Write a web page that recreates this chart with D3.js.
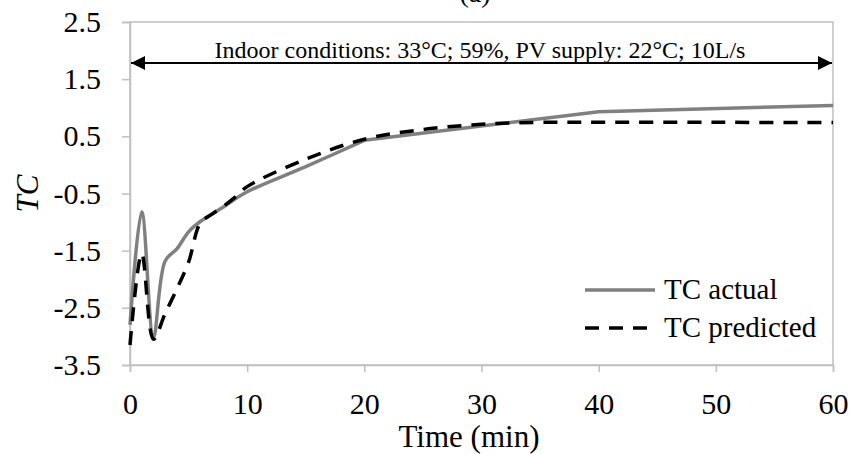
<!DOCTYPE html>
<html>
<head>
<meta charset="utf-8">
<script src="https://cdn.jsdelivr.net/npm/d3@7"></script>
<style>
  body { margin: 0; background: #fff; }
  svg, svg text { font-family: "Liberation Serif", "Times New Roman", "DejaVu Serif", serif; }
</style>
</head>
<body>
<div id="container"></div>
<script>
const width = 854;
const height = 454;
const margin = { top: 22, right: 21, bottom: 89, left: 130 };

// time (min) and TC values
const actualTime = [0, 1, 2, 3, 4, 5, 6, 8, 10, 15, 20, 40, 60];
const actualTC = [-2.8, -0.82, -3.02, -1.68, -1.47, -1.17, -0.99, -0.73, -0.47, -0.03, 0.43, 0.93, 1.04];
const predTime = [0, 1, 2, 3, 4, 5, 6, 7, 8, 9, 10, 15, 20, 25, 30, 35, 40, 50, 60];
const predTC = [-3.15, -1.55, -3.05, -2.6, -2.17, -1.7, -1.02, -0.86, -0.72, -0.56, -0.38, 0.1, 0.45, 0.62, 0.71, 0.745, 0.745, 0.745, 0.74];
const xTicks = [0, 10, 20, 30, 40, 50, 60];
const yTicks = [2.5, 1.5, 0.5, -0.5, -1.5, -2.5, -3.5];
const seriesNames = ["TC actual", "TC predicted"];
const note = "Indoor conditions: 33°C; 59%, PV supply: 22°C; 10L/s";

const serif = "Liberation Serif, Times New Roman, DejaVu Serif, serif";

const svg = d3.select("#container").append("svg")
  .attr("width", width)
  .attr("height", height)
  .attr("font-family", serif);

const x = d3.scaleLinear().domain([0, 60]).range([margin.left, width - margin.right]);
const y = d3.scaleLinear().domain([-3.5, 2.5]).range([height - margin.bottom, margin.top]);

const axisColor = "#bfbfbf";

// plot frame
svg.append("rect")
  .attr("x", x(0))
  .attr("y", y(2.5))
  .attr("width", x(60) - x(0))
  .attr("height", y(-3.5) - y(2.5))
  .attr("fill", "none")
  .attr("stroke", axisColor)
  .attr("stroke-width", 1.5);

const xAxis = svg.append("g")
  .attr("transform", `translate(0,${y(-3.5)})`)
  .call(d3.axisBottom(x).tickValues(xTicks).tickSize(7).tickPadding(21).tickFormat(d3.format("d")));
const yAxis = svg.append("g")
  .attr("transform", `translate(${x(0)},0)`)
  .call(d3.axisLeft(y).tickValues(yTicks).tickSize(8).tickPadding(21)
    .tickFormat((d) => d.toFixed(1)));

[xAxis, yAxis].forEach((g) => {
  g.attr("font-family", serif);
  g.select(".domain").attr("stroke", axisColor).attr("stroke-width", 1.5);
  g.selectAll(".tick line").attr("stroke", axisColor).attr("stroke-width", 1.5);
  g.selectAll(".tick text")
    .attr("fill", "#000")
    .attr("font-size", 30);
});

// lines: smooth through the early points, straight across the sparse tail
const smooth = d3.line()
  .x((d) => x(d[0]))
  .y((d) => y(d[1]))
  .curve(d3.curveCatmullRom);
const straight = d3.line()
  .x((d) => x(d[0]))
  .y((d) => y(d[1]));

const actual = actualTime.map((t, i) => [t, actualTC[i]]);
const predicted = predTime.map((t, i) => [t, predTC[i]]);

svg.append("path")
  .attr("d", smooth(actual.filter((d) => d[0] <= 20)) + straight(actual.filter((d) => d[0] >= 20)).replace(/^M/, "L"))
  .attr("fill", "none")
  .attr("stroke", "#808080")
  .attr("stroke-width", 3.5)
  .attr("stroke-linejoin", "round");

svg.append("path")
  .attr("d", smooth(predicted))
  .attr("fill", "none")
  .attr("stroke", "#000")
  .attr("stroke-width", 3.5)
  .attr("stroke-dasharray", "14,10");

// double arrow with annotation
const defs = svg.append("defs");
defs.append("marker")
  .attr("id", "head")
  .attr("viewBox", "0 0 10 10")
  .attr("refX", 10)
  .attr("refY", 5)
  .attr("markerWidth", 7)
  .attr("markerHeight", 7)
  .attr("markerUnits", "strokeWidth")
  .attr("orient", "auto-start-reverse")
  .append("path")
  .attr("d", "M0,0L10,5L0,10z")
  .attr("fill", "#000");

svg.append("line")
  .attr("x1", x(0) + 1)
  .attr("x2", x(60) - 1)
  .attr("y1", 63)
  .attr("y2", 63)
  .attr("stroke", "#000")
  .attr("stroke-width", 2)
  .attr("marker-start", "url(#head)")
  .attr("marker-end", "url(#head)");

svg.append("text")
  .attr("x", 480)
  .attr("y", 58)
  .attr("text-anchor", "middle")
  .attr("font-size", 24)
  .text(note);

// panel title, cut by the top edge as in the source
svg.append("text")
  .attr("x", 475)
  .attr("y", 2)
  .attr("text-anchor", "middle")
  .attr("font-size", 28)
  .text("(a)");

// axis titles
svg.append("text")
  .attr("x", 469)
  .attr("y", 447)
  .attr("text-anchor", "middle")
  .attr("font-size", 31)
  .text("Time (min)");

svg.append("text")
  .attr("transform", `translate(38,${(y(2.5) + y(-3.5)) / 2}) rotate(-90)`)
  .attr("text-anchor", "middle")
  .attr("font-size", 31)
  .attr("font-style", "italic")
  .text("TC");

// legend
const legend = svg.append("g").attr("transform", "translate(585,290)");
const legendItem = legend.selectAll("g")
  .data(seriesNames)
  .join("g")
  .attr("transform", (d, i) => `translate(0,${i * 38})`);

legendItem.append("line")
  .attr("x1", 0)
  .attr("x2", 70)
  .attr("stroke", (d, i) => (i === 0 ? "#808080" : "#000"))
  .attr("stroke-width", 3.5)
  .attr("stroke-dasharray", (d, i) => (i === 0 ? null : "14,10"));

legendItem.append("text")
  .attr("x", 79)
  .attr("y", 9)
  .attr("font-size", 29)
  .text((d) => d);
</script>
</body>
</html>
